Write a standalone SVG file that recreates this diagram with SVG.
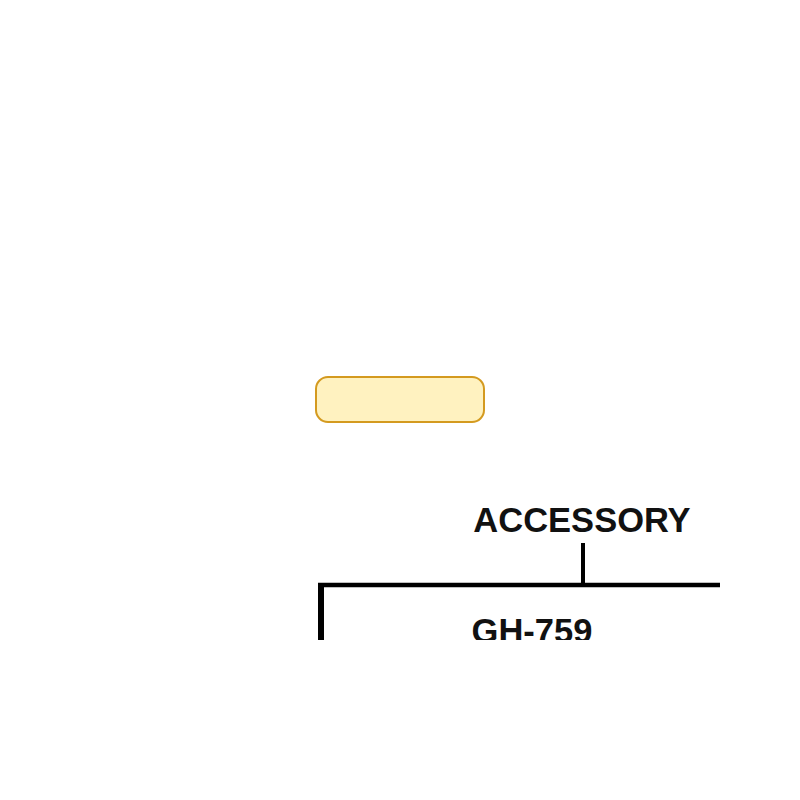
<svg xmlns="http://www.w3.org/2000/svg" width="800" height="800" viewBox="0 0 800 800">
  <style>
    .lbl { font-family: "Liberation Sans", Arial, sans-serif; font-weight: bold; font-size: 34.5px; fill: #111; text-anchor: middle; }
    .wire { stroke: #000; fill: none; stroke-linecap: butt; }
    .box { fill: #fff2c0; stroke: #d49a1f; stroke-width: 2; }
  </style>
  <defs>
    <clipPath id="crop">
      <rect x="300" y="480" width="420" height="160"/>
    </clipPath>
  </defs>
  <rect width="800" height="800" fill="#fff"/>
  <g id="box-node">
    <rect class="box" x="316" y="377" width="168" height="45" rx="12" ry="12"/>
  </g>
  <g clip-path="url(#crop)">
    <g id="accessory">
      <text class="lbl" x="582" y="532">ACCESSORY</text>
    </g>
    <g id="gh-759">
      <text class="lbl" x="532" y="643">GH-759</text>
    </g>
    <g id="connectors">
      <line class="wire" x1="583" y1="543" x2="583" y2="585" stroke-width="4"/>
      <line class="wire" x1="318" y1="585" x2="720" y2="585" stroke-width="4.5"/>
      <line class="wire" x1="321" y1="583" x2="321" y2="640" stroke-width="6"/>
    </g>
  </g>
</svg>
